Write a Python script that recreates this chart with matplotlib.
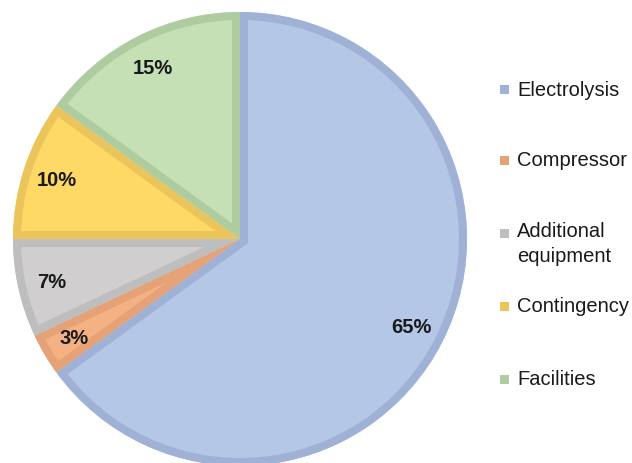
import matplotlib
matplotlib.use("Agg")
import matplotlib.pyplot as plt
from matplotlib.patches import Rectangle, Wedge

# Data
categories = ["Electrolysis", "Compressor", "Additional\nequipment", "Contingency", "Facilities"]
shares = [65, 3, 7, 10, 15]
fill_colors = ["#B4C7E7", "#F4B183", "#D0CECE", "#FFD966", "#C5E0B4"]
edge_colors = ["#9FB2D6", "#E5A277", "#BEBEBE", "#EBC55C", "#AFCCA1"]

plt.rcParams["font.family"] = ["Liberation Sans", "DejaVu Sans"]

W, H = 632, 464
fig = plt.figure(figsize=(W / 100, H / 100), dpi=100)

# pie centre (240, 240) px from top-left, radius 227 px
cx, cy, r = 240, 240, 227
ax = fig.add_axes([(cx - r) / W, (H - cy - r) / H, 2 * r / W, 2 * r / H])

wedges, texts, autotexts = ax.pie(
    shares, colors=fill_colors, startangle=90, counterclock=False,
    autopct="%d%%", pctdistance=0.85,
    wedgeprops=dict(linewidth=0),
    textprops=dict(fontsize=14.5, fontweight="bold", color="#1a1a1a"),
)
ax.set_xlim(-1, 1)
ax.set_ylim(-1, 1)
ax.set_aspect("equal")
ax.axis("off")

# inner border: stroke clipped to each wedge
for w, ec in zip(wedges, edge_colors):
    border = Wedge(w.center, w.r, w.theta1, w.theta2, facecolor="none",
                   edgecolor=ec, linewidth=11.5, zorder=w.get_zorder() + 0.1)
    ax.add_patch(border)
    border.set_clip_path(w)
for t in autotexts:
    t.set_zorder(5)

# legend drawn by hand to match the spacing
legend_y = [90, 161, 234, 307, 380]
for label, col, y in zip(categories, edge_colors, legend_y):
    fig.patches.append(Rectangle((500 / W, (H - y - 5) / H), 9 / W, 9 / H,
                                 transform=fig.transFigure, facecolor=col,
                                 edgecolor="none"))
    multi = "\n" in label
    fig.text(517 / W, (H - y + (12 if multi else 0)) / H, label, fontsize=14.5,
             color="#1a1a1a", va="top" if multi else "center", ha="left",
             linespacing=1.4)

fig.savefig("out.png", dpi=100)
